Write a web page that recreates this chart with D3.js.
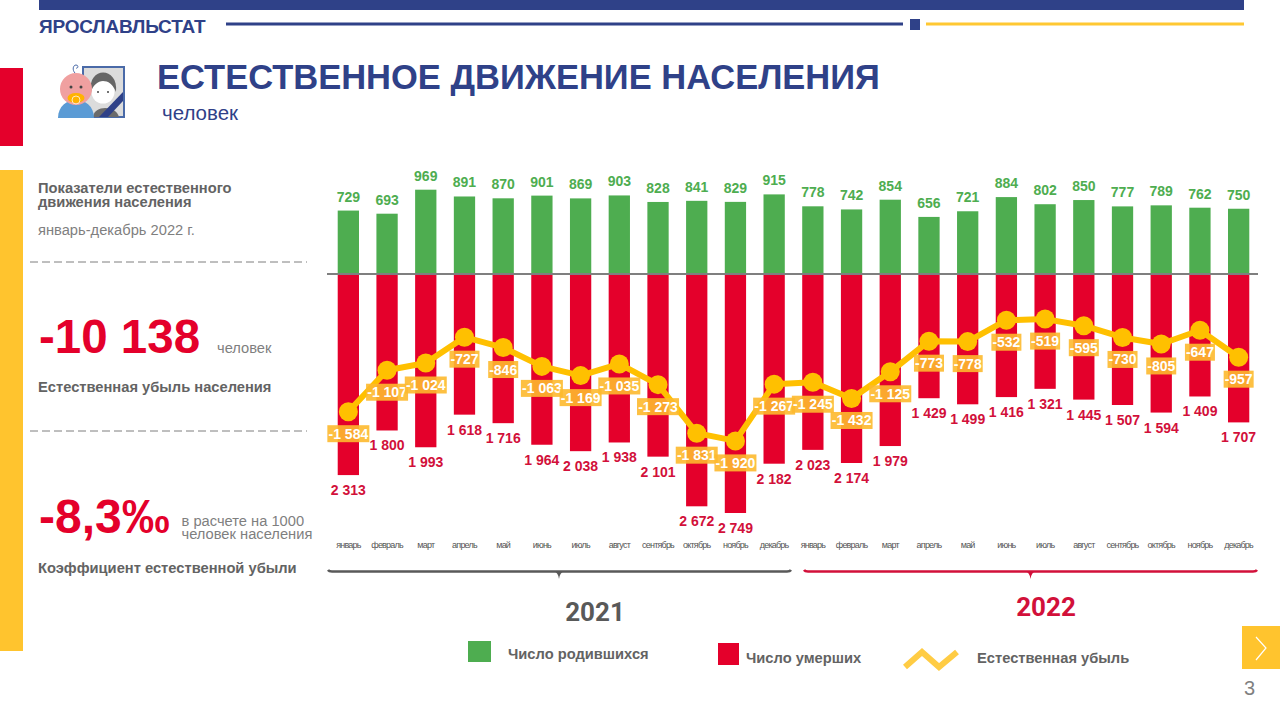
<!DOCTYPE html>
<html lang="ru">
<head>
<meta charset="UTF-8">
<title>Естественное движение населения</title>
<script src="https://d3js.org/d3.v7.min.js"></script>
<style>
    * { margin: 0; padding: 0; box-sizing: border-box; }
    body { background: #fff; overflow: hidden; }
    svg { display: block; }
    text { font-family: 'Liberation Sans', Arial, sans-serif; }
    .roboto { font-family: Roboto, sans-serif; }
    .month text { font-family: 'Liberation Sans', Arial, sans-serif; font-size: 9px; letter-spacing: -0.8px; fill: #555; }
</style>
</head>
<body>
<svg id="chart" width="1280" height="720"></svg>
<script>
// данные
const months = ['январь','февраль','март','апрель','май','июнь','июль','август','сентябрь','октябрь','ноябрь','декабрь'];
const years = ['2021', '2022'];
const births = [729,693,969,891,870,901,869,903,828,841,829,915,778,742,854,656,721,884,802,850,777,789,762,750];
const deaths = [2313,1800,1993,1618,1716,1964,2038,1938,2101,2672,2749,2182,2023,2174,1979,1429,1499,1416,1321,1445,1507,1594,1409,1707];
const decline = [-1584,-1107,-1024,-727,-846,-1063,-1169,-1035,-1273,-1831,-1920,-1267,-1245,-1432,-1125,-773,-778,-532,-519,-595,-730,-805,-647,-957];

const BLUE = '#2f4188', RED = '#e4002b', DARKRED = '#d2103a', GREEN = '#4ead50', YEL = '#ffc000', GREY = '#636363', LIGHT = '#7f7f7f';

const svg = d3.select('#chart');
const idx = d3.range(24);
const x = d3.scaleBand().domain(idx).range([329, 1258]).paddingInner(0.45).paddingOuter(0.225);
const y = d3.scaleLinear().domain([-2749, 969]).range([513, 189.7]);

// пробел как разделитель тысяч
const fmt = v => {
    const s = String(Math.abs(v));
    const t = s.length > 3 ? s.slice(0, -3) + ' ' + s.slice(-3) : s;
    return (v < 0 ? '-' : '') + t;
};
const cx = i => x(i) + x.bandwidth() / 2;

function txt(str, px, py, size, fill, weight, cls) {
    return svg.append('text').attr('x', px).attr('y', py)
        .attr('font-size', size).attr('fill', fill)
        .attr('font-weight', weight || 400).attr('class', cls || null).text(str);
}
function box(px, py, w, h, fill) {
    return svg.append('rect').attr('x', px).attr('y', py).attr('width', w).attr('height', h).attr('fill', fill);
}
function rule(x1, x2, py, stroke, sw) {
    return svg.append('line').attr('x1', x1).attr('x2', x2).attr('y1', py).attr('y2', py)
        .attr('stroke', stroke).attr('stroke-width', sw);
}

// шапка
box(39, 0, 1205, 10, BLUE);
txt('ЯРОСЛАВЛЬСТАТ', 39, 33, 19, BLUE, 700).attr('letter-spacing', -0.2);
rule(226, 903, 24, BLUE, 3);
box(910, 19, 10, 11, BLUE);
rule(926, 1244, 24, '#ffc832', 3);
box(0, 68, 23, 78, RED);
box(0, 170, 23, 481, '#ffc42e');
txt('ЕСТЕСТВЕННОЕ ДВИЖЕНИЕ НАСЕЛЕНИЯ', 157, 89, 34.5, BLUE, 700);
txt('человек', 162, 120, 20.5, BLUE);

// значок
const icon = svg.append('g');
icon.append('rect').attr('x', 83).attr('y', 67).attr('width', 41).attr('height', 50).attr('fill', '#dcdcdc').attr('stroke', '#4a6aa8').attr('stroke-width', 2);
icon.append('path').attr('d', 'M93 117 C94 105 116 105 119 117 Z').attr('fill', '#6b6b6b');
icon.append('circle').attr('cx', 103).attr('cy', 92).attr('r', 11.5).attr('fill', '#fff');
icon.append('path').attr('d', 'M91 92 C87 66 119 66 116 92 C113 84 108 81 103 81 C98 81 93 85 91 92 Z').attr('fill', '#666');
icon.append('circle').attr('cx', 98).attr('cy', 92).attr('r', 1).attr('fill', '#444');
icon.append('circle').attr('cx', 108).attr('cy', 92).attr('r', 1).attr('fill', '#444');
icon.append('path').attr('d', 'M99 117 L123 92 L123 101 L108 117 Z').attr('fill', BLUE);
icon.append('path').attr('d', 'M58 118 C58 94 94 94 94 118 Z').attr('fill', '#5b9bd5');
icon.append('circle').attr('cx', 76).attr('cy', 89).attr('r', 16).attr('fill', '#f0a0a0');
icon.append('circle').attr('cx', 71).attr('cy', 87).attr('r', 1.5).attr('fill', '#444');
icon.append('circle').attr('cx', 81).attr('cy', 87).attr('r', 1.5).attr('fill', '#444');
icon.append('ellipse').attr('cx', 76).attr('cy', 98).attr('rx', 8.5).attr('ry', 5).attr('fill', '#ffb300');
icon.append('circle').attr('cx', 76).attr('cy', 100).attr('r', 4).attr('fill', 'none').attr('stroke', '#ffe9c0');
icon.append('path').attr('d', 'M75 73 C72 70 73 65 76 65 C79 65 78 69 76 68').attr('fill', 'none').attr('stroke', '#4a6aa8');

// левая панель
txt('Показатели естественного', 38, 193, 14.7, GREY, 700);
txt('движения населения', 38, 207, 14.7, GREY, 700);
txt('январь-декабрь 2022 г.', 38, 235, 14.7, LIGHT);
rule(30, 307, 262, LIGHT, 1).attr('stroke-dasharray', '8 4');
txt('-10 138', 39, 353, 47.5, RED, 700);
txt('человек', 217, 353, 14.7, LIGHT);
txt('Естественная убыль населения', 38, 392, 14.7, GREY, 700);
rule(30, 307, 431, LIGHT, 1).attr('stroke-dasharray', '8 4');
txt('-8,3‰', 39, 533, 48, RED, 700);
txt('в расчете на 1000', 181.5, 526, 14.7, LIGHT);
txt('человек населения', 181.5, 539, 14.7, LIGHT);
txt('Коэффициент естественной убыли', 38, 573, 14.7, GREY, 700);

// столбцы
svg.append('g').selectAll('rect').data(births).join('rect')
    .attr('x', (d, i) => x(i)).attr('width', x.bandwidth())
    .attr('y', d => y(d)).attr('height', d => y(0) - y(d)).attr('fill', GREEN);
svg.append('g').selectAll('rect').data(deaths).join('rect')
    .attr('x', (d, i) => x(i)).attr('width', x.bandwidth())
    .attr('y', y(0)).attr('height', d => y(-d) - y(0)).attr('fill', RED);
rule(327, 1258, y(0), '#7f7f7f', 2);

svg.append('g').selectAll('text').data(births).join('text')
    .attr('x', (d, i) => cx(i)).attr('y', d => y(d) - 9)
    .attr('text-anchor', 'middle').attr('font-size', 14).attr('font-weight', 700)
    .attr('fill', GREEN).text(d => d);
svg.append('g').selectAll('text').data(deaths).join('text')
    .attr('x', (d, i) => cx(i)).attr('y', d => y(-d) + 20)
    .attr('text-anchor', 'middle').attr('font-size', 14).attr('font-weight', 700)
    .attr('fill', DARKRED).text(fmt);

// линия убыли
const line = d3.line().x((d, i) => cx(i)).y(d => y(d));
svg.append('path').datum(decline).attr('d', line)
    .attr('fill', 'none').attr('stroke', YEL).attr('stroke-width', 6).attr('stroke-linejoin', 'round');
svg.append('g').selectAll('circle').data(decline).join('circle')
    .attr('cx', (d, i) => cx(i)).attr('cy', d => y(d)).attr('r', 9.5).attr('fill', YEL);

const labels = svg.append('g').selectAll('g').data(decline).join('g')
    .attr('transform', (d, i) => `translate(${cx(i)},${y(d) + 22})`);
labels.append('rect').attr('x', d => d <= -1000 ? -21 : -15).attr('y', -8.5)
    .attr('width', d => d <= -1000 ? 42 : 30).attr('height', 17)
    .attr('fill', '#fdb92e').attr('fill-opacity', 0.9);
labels.append('text').attr('text-anchor', 'middle').attr('y', 5)
    .attr('font-size', 14).attr('font-weight', 700).attr('fill', '#fff').text(fmt);

// подписи месяцев
const axis = d3.axisBottom(x).tickSize(0).tickPadding(0).tickFormat(i => months[i % 12]);
svg.append('g').attr('class', 'month').attr('transform', 'translate(0,542)').call(axis)
    .call(g => g.select('.domain').remove());

// скобки годов
function bracket(x1, x2, xm, stroke) {
    svg.append('path')
        .attr('d', `M${x1} 570 Q${x1 + 1} 571.5 ${x1 + 4} 571.5 L${x2 - 4} 571.5 Q${x2 - 1} 571.5 ${x2} 570`)
        .attr('fill', 'none').attr('stroke', stroke).attr('stroke-width', 2.6);
    svg.append('path')
        .attr('d', `M${xm - 5} 571.5 Q${xm - 1} 572 ${xm} 579 Q${xm + 1} 572 ${xm + 5} 571.5 Z`)
        .attr('fill', stroke);
}
bracket(328, 791, 559, '#595959');
bracket(804, 1257, 1030.5, DARKRED);
txt(years[0], 595, 621, 26, '#595959', 700, 'roboto').attr('text-anchor', 'middle');
txt(years[1], 1046, 616, 26, DARKRED, 700, 'roboto').attr('text-anchor', 'middle');

// легенда
box(468, 641, 23, 21, GREEN);
txt('Число родившихся', 508, 659, 14.7, GREY, 700);
box(718, 643, 21, 22, RED);
txt('Число умерших', 746, 663, 14.7, GREY, 700);
svg.append('path').attr('d', 'M905 667 L922 652 L939 667 L957 652')
    .attr('fill', 'none').attr('stroke', '#ffcc44').attr('stroke-width', 6);
txt('Естественная убыль', 977, 663, 14.7, GREY, 700);

// навигация
box(1242, 626, 38, 43, '#ffc42e');
svg.append('path').attr('d', 'M1256 637 L1266 648 L1256 660').attr('fill', 'none').attr('stroke', '#fff').attr('stroke-width', 1.2);
txt('3', 1244, 695, 20, '#808080');
</script>
</body>
</html>
